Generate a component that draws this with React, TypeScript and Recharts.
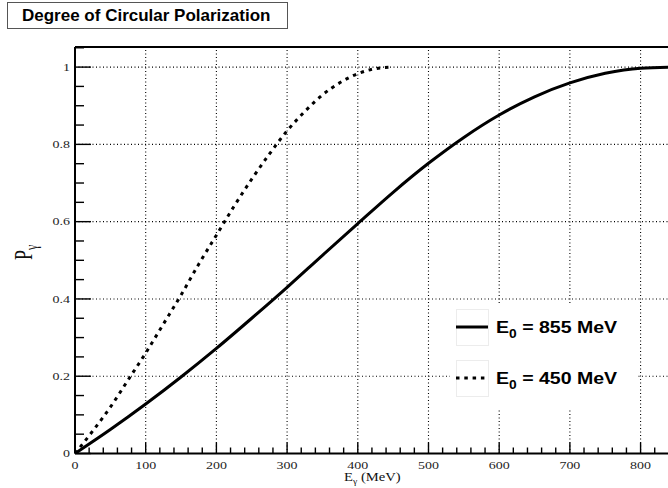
import React from 'react';
import { LineChart, Line, XAxis, YAxis, ReferenceLine, Legend } from 'recharts';

// photon energy (MeV) and degree of circular polarization, beam energy 855 MeV
const energy855 = [0, 50, 100, 150, 200, 250, 300, 350, 400, 450, 500, 550, 600, 650, 700, 750, 800, 855];
const pol855 = [0, 0.062, 0.128, 0.198, 0.272, 0.35, 0.43, 0.513, 0.595, 0.676, 0.751, 0.818, 0.876, 0.923, 0.959, 0.984, 0.997, 1.0];

// same for beam energy 450 MeV
const energy450 = [0, 25, 50, 75, 100, 125, 150, 175, 200, 225, 250, 275, 300, 325, 350, 375, 400, 425, 450];
const pol450 = [0, 0.058, 0.12, 0.19, 0.26, 0.335, 0.41, 0.49, 0.565, 0.64, 0.71, 0.775, 0.835, 0.885, 0.928, 0.96, 0.983, 0.996, 1.0];

const xMajor = [0, 100, 200, 300, 400, 500, 600, 700, 800];
const yMajor = [0, 0.2, 0.4, 0.6, 0.8, 1];
const xGrid = [100, 200, 300, 400, 500, 600, 700, 800];
const yGrid = [0.2, 0.4, 0.6, 0.8, 1];

const X_MAX = 860;
const Y_MAX = 1.052;

const xTicks = Array.from({ length: X_MAX / 20 + 1 }, (_, i) => i * 20);
const yTicks = Array.from({ length: 22 }, (_, i) => Math.round(i * 5) / 100);

const data855 = energy855.map((e, i) => ({ e, p: pol855[i] }));
const data450 = energy450.map((e, i) => ({ e, p: pol450[i] }));

const series = [
  { label: '855', dash: undefined as string | undefined },
  { label: '450', dash: '3.5 4.8' },
];

const serif = '"Liberation Serif", "Times New Roman", serif';
const sans = '"Liberation Sans", Arial, Helvetica, sans-serif';

const isMajorX = (v: number) => xMajor.includes(v);
const isMajorY = (v: number) => yMajor.some((m) => Math.abs(m - v) < 1e-6);

// ticks point into the frame, labels sit outside
function XTick(props: any) {
  const { x, y, payload } = props;
  const v = payload.value;
  const major = isMajorX(v);
  return (
    <g>
      <line x1={x} x2={x} y1={y} y2={y - (major ? 11 : 6)} stroke="#000" strokeWidth={1.4} />
      {major && (
        <text
          transform={`translate(${x},${y + 15.5}) scale(1.27,1)`}
          textAnchor="middle"
          fontFamily={serif}
          fontSize={11}
          fill="#222"
        >
          {v}
        </text>
      )}
    </g>
  );
}

function YTick(props: any) {
  const { x, y, payload } = props;
  const v = payload.value;
  const major = isMajorY(v);
  return (
    <g>
      <line x1={x} x2={x + (major ? 16 : 9)} y1={y} y2={y} stroke="#000" strokeWidth={1.4} />
      {major && (
        <text
          transform={`translate(${x - 5},${y + 3.8}) scale(1.27,1)`}
          textAnchor="end"
          fontFamily={serif}
          fontSize={11}
          fill="#222"
        >
          {Math.round(v * 10) / 10}
        </text>
      )}
    </g>
  );
}

function LegendBox() {
  return (
    <svg width={187} height={105} style={{ display: 'block' }}>
      {series.map((s, i) => {
        const top = 4 + i * 51;
        const cy = top + 18;
        return (
          <g key={s.label}>
            <rect x={6.5} y={top + 0.5} width={32} height={36} fill="#fff" stroke="#ececec" />
            <line x1={6} x2={38} y1={cy} y2={cy} stroke="#000" strokeWidth={3} strokeDasharray={s.dash} />
            <text
              transform={`translate(46,${cy + 5.5}) scale(1.15,1)`}
              fontFamily={sans}
              fontWeight="bold"
              fontSize={17}
              fill="#000"
            >
              E
              <tspan fontSize={12} dy={5}>0</tspan>
              <tspan dy={-5}>{` = ${s.label} MeV`}</tspan>
            </text>
          </g>
        );
      })}
    </svg>
  );
}

export default function App() {
  return (
    <div style={{ position: 'fixed', left: 0, top: 0, width: 668, height: 488, overflow: 'hidden', background: '#fff' }}>
      <LineChart width={690} height={488} margin={{ top: 47, right: 7, bottom: 4.5, left: 0 }}>
        <XAxis
          dataKey="e"
          type="number"
          domain={[0, X_MAX]}
          ticks={xTicks}
          interval={0}
          allowDataOverflow
          height={30}
          tickLine={false}
          tickSize={0}
          tickMargin={0}
          axisLine={{ stroke: '#000', strokeWidth: 2 }}
          tick={XTick}
          label={{
            content: () => (
              <text transform="translate(344,481) scale(1.22,1)" fontFamily={serif} fontSize={12} fill="#111">
                E
                <tspan fontSize={8} dy={2.5}>γ</tspan>
                <tspan dy={-2.5}> (MeV)</tspan>
              </text>
            ),
          }}
        />
        <YAxis
          type="number"
          domain={[0, Y_MAX]}
          ticks={yTicks}
          interval={0}
          allowDataOverflow
          width={75}
          tickLine={false}
          tickSize={0}
          tickMargin={0}
          axisLine={{ stroke: '#000', strokeWidth: 2 }}
          tick={YTick}
          label={{
            content: () => (
              <text transform="translate(31.5,260) rotate(-90) scale(1,1.4)" fontFamily={serif} fontSize={18} fill="#111">
                P
                <tspan fontSize={12} dy={4}>γ</tspan>
              </text>
            ),
          }}
        />
        {xGrid.map((v) => (
          <ReferenceLine key={`gx${v}`} x={v} stroke="#000" strokeWidth={1.1} strokeDasharray="1 2.5" />
        ))}
        {yGrid.map((v) => (
          <ReferenceLine key={`gy${v}`} y={v} stroke="#000" strokeWidth={1.1} strokeDasharray="1 2.5" />
        ))}
        <ReferenceLine y={Y_MAX} stroke="#000" strokeWidth={2} />
        <Line
          data={data855}
          dataKey="p"
          type="monotone"
          stroke="#000"
          strokeWidth={3}
          dot={false}
          isAnimationActive={false}
        />
        <Line
          data={data450}
          dataKey="p"
          type="monotone"
          stroke="#000"
          strokeWidth={3}
          strokeDasharray="3.5 4.8"
          dot={false}
          isAnimationActive={false}
        />
        <Legend
          layout="vertical"
          align="center"
          verticalAlign="middle"
          content={LegendBox}
          wrapperStyle={{ position: 'absolute', left: 450, top: 305, width: 187, height: 105, background: '#fff' }}
        />
      </LineChart>
      <svg width={300} height={32} style={{ position: 'absolute', left: 0, top: 0 }}>
        <rect x={7.5} y={2.5} width={280} height={26} fill="#fff" stroke="#555" />
        <text x={22} y={21} fontFamily={sans} fontWeight="bold" fontSize={17} fill="#000">
          Degree of Circular Polarization
        </text>
      </svg>
    </div>
  );
}
